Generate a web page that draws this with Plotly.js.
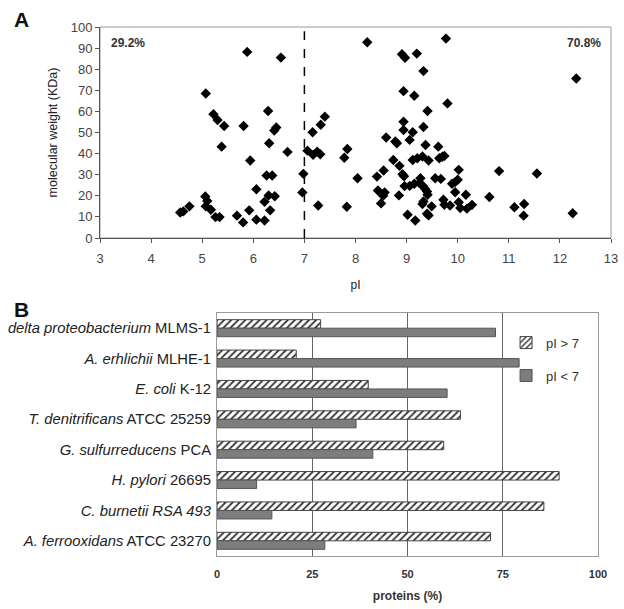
<!DOCTYPE html>
<html>
<head>
<meta charset="utf-8">
<script src="https://cdn.plot.ly/plotly-3.0.1.min.js"></script>
<style>html,body{margin:0;padding:0;background:#fff;}#chart{width:624px;height:609px;}</style>
</head>
<body>
<div id="chart"></div>
<script>
// Panel A: pI vs molecular weight
const pI = [4.57,4.63,4.75,5.06,5.10,5.07,5.17,5.07,5.22,5.30,5.43,5.38,5.26,5.34,5.68,5.80,5.81,5.88,5.94,5.92,
  6.06,6.06,6.22,6.22,6.26,6.37,6.29,6.31,6.30,6.42,6.33,6.41,6.45,6.54,6.67,6.98,6.96,
  7.06,7.16,7.17,7.25,7.31,7.32,7.40,7.27,7.78,7.84,7.83,8.04,8.23,8.42,8.44,8.55,8.57,8.54,8.50,8.60,8.78,8.81,8.74,8.86,8.85,
  8.92,8.95,8.91,8.97,9.20,9.33,8.94,9.15,8.94,8.94,9.12,9.06,9.33,9.41,9.37,9.43,9.12,9.21,9.31,
  8.96,9.06,9.15,9.25,9.27,9.32,9.36,9.40,9.41,9.33,9.31,9.49,9.40,9.43,9.02,9.17,9.56,9.67,9.62,9.64,9.74,9.70,
  9.77,9.80,9.72,9.74,9.85,9.89,9.95,10.00,10.02,9.95,10.02,10.05,10.16,10.18,10.28,10.62,10.81,11.11,11.30,11.29,11.55,12.25,12.32];
const mw = [12.1,12.6,15.0,19.7,17.5,15.0,13.4,68.5,58.7,55.9,53.1,43.3,9.9,9.9,10.6,7.4,53.1,88.2,36.7,13.1,
  23.1,8.7,17.2,8.3,29.6,29.6,60.2,44.9,20.2,19.8,13.1,50.9,52.4,85.5,40.8,30.4,21.6,
  41.4,50.1,39.4,40.9,39.7,53.7,57.5,15.4,38.0,42.2,14.8,28.3,92.8,29.1,22.5,32.0,21.6,20.0,16.4,47.6,45.7,44.9,37.0,34.2,20.2,
  30.2,29.3,87.1,85.4,87.4,79.1,69.6,67.4,55.1,51.2,50.1,46.5,52.6,60.2,44.1,36.7,37.0,37.8,38.6,
  24.6,24.7,25.7,26.0,28.3,24.7,23.3,22.0,20.5,17.3,16.1,15.0,11.5,10.7,11.0,8.3,28.3,28.0,43.3,37.8,38.9,38.5,
  94.5,63.8,18.1,15.7,15.4,25.7,26.5,27.6,32.3,21.7,17.0,14.2,20.5,13.9,15.7,19.4,31.7,14.6,16.1,10.6,30.6,11.7,75.6];
const xTicksA = [3,4,5,6,7,8,9,10,11,12,13];
const yTicksA = [0,10,20,30,40,50,60,70,80,90,100];
const pctBelow = "29.2%";
const pctAbove = "70.8%";

// Panel B: proteins (%) per organism
const organisms = [
  "<i>delta proteobacterium</i> MLMS-1",
  "<i>A. erhlichii</i> MLHE-1",
  "<i>E. coli</i> K-12",
  "<i>T. denitrificans</i> ATCC 25259",
  "<i>G. sulfurreducens</i> PCA",
  "<i>H. pylori</i> 26695",
  "<i>C. burnetii RSA 493</i>",
  "<i>A. ferrooxidans</i> ATCC 23270"
];
const above7 = [27.2, 20.8, 39.7, 63.9, 59.5, 89.8, 85.8, 71.8];
const below7 = [73.1, 79.3, 60.4, 36.5, 40.9, 10.4, 14.4, 28.3];
const xTicksB = [0,25,50,75,100];

const FONT = "Liberation Sans, Arial, sans-serif";
const tickCol = "#444";

const traces = [
  {type:"scatter", mode:"markers", x:pI, y:mw, xaxis:"x", yaxis:"y",
   marker:{symbol:"diamond", size:8, color:"#000"}, showlegend:false, hoverinfo:"x+y"},
  {type:"bar", orientation:"h", name:"pI > 7", legendgroup:"a", x:above7, y:organisms, xaxis:"x2", yaxis:"y2",
   marker:{color:"#fff", line:{color:"#444", width:1},
     pattern:{shape:"/", fgcolor:"#333", bgcolor:"#fff", size:5, solidity:0.35}}},
  {type:"bar", orientation:"h", name:"pI < 7", legendgroup:"b", x:below7, y:organisms, xaxis:"x2", yaxis:"y2",
   marker:{color:"#7d7d7d", line:{color:"#555", width:1}}}
];

const layout = {
  width:624, height:609,
  margin:{l:0,r:0,t:0,b:0},
  paper_bgcolor:"#fff", plot_bgcolor:"#fff",
  font:{family:FONT, color:"#222"},
  barmode:"group", bargap:0.44, bargroupgap:0,
  showlegend:true,
  legend:{x:0.811, y:0.462, xanchor:"left", yanchor:"top", bgcolor:"rgba(0,0,0,0)",
    font:{family:FONT, size:13, color:"#333"}, traceorder:"grouped", tracegroupgap:13},
  xaxis:{domain:[100/624, 611/624], anchor:"y", range:[3,13], tickvals:xTicksA,
    showgrid:false, zeroline:false, showline:true, linecolor:"#555", linewidth:1,
    ticks:"outside", ticklen:4, tickcolor:"#555", ticklabelstandoff:4,
    tickfont:{family:FONT, size:13, color:tickCol},
    title:{text:"pI", font:{family:FONT, size:12, color:"#222"}, standoff:16}},
  yaxis:{domain:[1-238/609, 1-27/609], anchor:"x", range:[0,100], tickvals:yTicksA,
    showgrid:false, zeroline:false, showline:true, linecolor:"#555", linewidth:1,
    ticks:"outside", ticklen:4, tickcolor:"#555",
    tickfont:{family:FONT, size:13, color:tickCol},
    title:{text:"molecular weight (KDa)", font:{family:FONT, size:12.5, color:"#222"}, standoff:10}},
  xaxis2:{domain:[217/624, 598/624], anchor:"y2", range:[0,100], tickvals:xTicksB,
    showgrid:true, gridcolor:"#666", gridwidth:1, zeroline:false, showline:true, mirror:true,
    linecolor:"#999", linewidth:1, ticks:"", ticklabelstandoff:8,
    tickfont:{family:FONT, size:11, color:"#333", weight:"bold"},
    title:{text:"<b>proteins (%)</b>", font:{family:FONT, size:12, color:"#333"}, standoff:12}},
  yaxis2:{domain:[1-556/609, 1-313/609], anchor:"x2", autorange:"reversed", type:"category",
    showgrid:false, zeroline:false, showline:true, mirror:true, linecolor:"#999", linewidth:1,
    ticks:"", ticklabelstandoff:2,
    tickfont:{family:FONT, size:14.8, color:"#222"}},
  shapes:[
    {type:"rect", xref:"x domain", yref:"y domain", x0:0, x1:1, y0:0, y1:1, line:{color:"#999", width:1}, layer:"below"},
    {type:"line", xref:"x", yref:"y", x0:7, x1:7, y0:0, y1:98, line:{color:"#000", width:1.5, dash:"dash"}}
  ],
  annotations:[
    {text:"<b>A</b>", xref:"paper", yref:"paper", x:12/624, y:1-6/609, xanchor:"left", yanchor:"top", showarrow:false, font:{family:FONT, size:21, color:"#111"}},
    {text:"<b>B</b>", xref:"paper", yref:"paper", x:12/624, y:1-296/609, xanchor:"left", yanchor:"top", showarrow:false, font:{family:FONT, size:21, color:"#111"}},
    {text:"<b>"+pctBelow+"</b>", xref:"x", yref:"y", x:3.18, y:92.5, xanchor:"left", yanchor:"middle", showarrow:false, font:{family:FONT, size:12, color:"#333"}},
    {text:"<b>"+pctAbove+"</b>", xref:"x", yref:"y", x:12.85, y:92.5, xanchor:"right", yanchor:"middle", showarrow:false, font:{family:FONT, size:12, color:"#333"}}
  ]
};

Plotly.newPlot("chart", traces, layout, {displayModeBar:false, staticPlot:true});
</script>
</body>
</html>
